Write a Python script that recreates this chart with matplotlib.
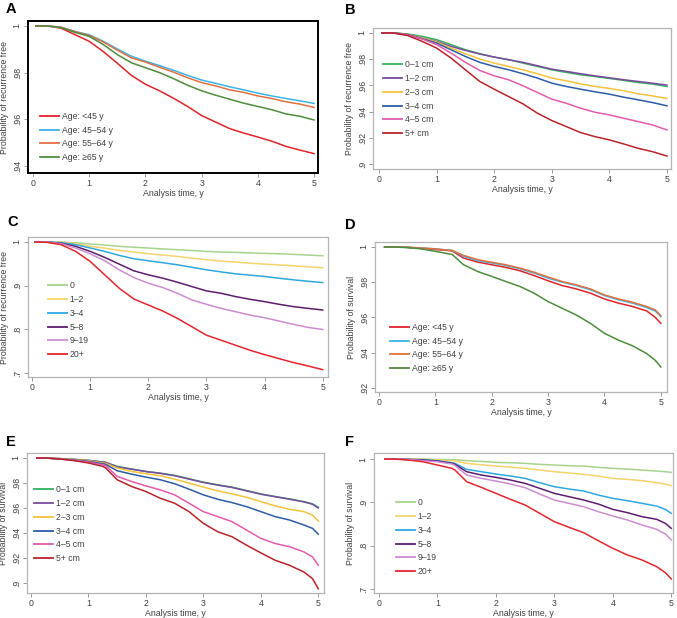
import matplotlib
matplotlib.use("Agg")
import matplotlib.pyplot as plt

plt.rcParams['font.family'] = ['Liberation Sans', 'DejaVu Sans']

# time grids (years)
t_top = [0.05, 0.25, 0.5, 0.75, 1.0, 1.25, 1.5, 1.75, 2.0, 2.25, 2.5, 2.75,
         3.0, 3.25, 3.5, 3.75, 4.0, 4.25, 4.5, 4.75, 5.0]
t_os = [0.1, 0.25, 0.5, 0.75, 1.0, 1.25, 1.3, 1.5, 1.75, 2.0, 2.25, 2.5, 2.75,
        3.0, 3.25, 3.5, 3.75, 4.0, 4.25, 4.5, 4.75, 4.9, 5.0]

age_labels = ['Age: <45 y', 'Age: 45\u201354 y', 'Age: 55\u201364 y', 'Age: \u226565 y']
size_labels = ['0\u20131 cm', '1\u20132 cm', '2\u20133 cm', '3\u20134 cm', '4\u20135 cm', '5+ cm']
node_labels = ['0', '1\u20132', '3\u20134', '5\u20138', '9\u201319', '20+']

age_colors = ['#e0232b', '#3ab4e6', '#e2703f', '#4e8d3c']
size_colors = ['#34b060', '#7a4b9e', '#f3c33c', '#2d5ca6', '#e35bac', '#b8232a']
node_colors = ['#a6d48e', '#f6d36c', '#2ea8df', '#5e1c6f', '#cb8dd0', '#e3262c']

# A: recurrence free by age
rfs_age = [
    [1, 1, .999, .9962, .9934, .989, .984, .9788, .975, .9722, .969, .9655, .9616, .9588, .956, .9541, .9524, .9506, .9484, .9468, .9453],
    [1, 1, .9994, .9976, .9962, .9934, .9901, .987, .9849, .983, .981, .9788, .9768, .9754, .9739, .9726, .9712, .97, .9689, .9679, .9668],
    [1, 1, .9994, .9975, .9959, .9931, .9896, .9863, .9845, .9823, .9802, .9778, .9757, .9743, .9726, .9715, .97, .9689, .9675, .9665, .9651],
    [1, 1, .9993, .9972, .9955, .992, .9877, .9842, .9821, .98, .9774, .9746, .9722, .9703, .9686, .9669, .9655, .9641, .9623, .9613, .9597],
]
# B: recurrence free by tumour size
rfs_size = [
    [1, 1, .9992, .9974, .9949, .9911, .9872, .9842, .9816, .9796, .977, .9745, .9719, .9699, .9681, .9668, .9653, .9638, .9622, .961, .9592],
    [1, 1, .999, .9962, .9936, .9898, .9867, .9839, .9816, .9796, .9776, .975, .9724, .9707, .9689, .9673, .9658, .9643, .963, .9617, .9602],
    [1, 1, .999, .9962, .9931, .9885, .9842, .9801, .977, .9745, .9719, .9689, .9656, .9635, .9612, .9592, .9577, .9559, .9536, .952, .95],
    [1, 1, .9988, .9957, .9923, .9872, .9821, .9776, .9745, .9719, .9689, .9656, .9617, .9592, .9571, .9551, .9533, .951, .949, .9469, .9444],
    [1, 1, .9985, .9954, .9911, .9847, .9776, .9714, .9673, .9643, .9597, .9546, .9495, .9464, .9426, .9395, .9375, .9349, .9324, .9298, .926],
    [1, 1, .998, .9936, .9885, .9809, .9719, .963, .9571, .9515, .9459, .9388, .9332, .9286, .924, .9209, .9184, .9153, .912, .9094, .9061],
]
# C: recurrence free by positive nodes
rfs_nodes = [
    [1, 1, 1, .998, .9954, .993, .99, .988, .9862, .984, .9823, .9805, .9785, .977, .9762, .975, .9739, .973, .9716, .970, .9685],
    [1, 1, .9992, .996, .99, .986, .9808, .977, .9731, .970, .967, .963, .9593, .9565, .954, .9515, .9493, .9475, .9455, .943, .9409],
    [1, 1, .9985, .9939, .9862, .9785, .9693, .9616, .957, .9525, .9478, .942, .9363, .9315, .9271, .924, .921, .917, .9133, .910, .9071],
    [1, 1, .997, .99, .9785, .9647, .9493, .934, .9248, .9171, .9079, .8979, .888, .8826, .875, .8688, .8634, .8573, .8519, .848, .8442],
    [1, 1, .9962, .9862, .9731, .957, .9363, .9187, .9056, .8956, .8826, .8673, .8573, .8481, .8404, .8327, .8266, .8189, .8113, .8044, .7997],
    [1, .9992, .9939, .9785, .9555, .9248, .8941, .8696, .8557, .8419, .8251, .8059, .7866, .7752, .7636, .7521, .7421, .7329, .7238, .7161, .7077],
]
# D: survival by age
os_age = [
    [1, 1, .9998, .9992, .9985, .9979, .9977, .9937, .9914, .9899, .9884, .9865, .9838, .9808, .9781, .9762, .9738, .9705, .9681, .9662, .9637, .9601, .9567],
    [1, 1, .9998, .9994, .9989, .9981, .998, .9947, .9922, .9909, .9895, .9876, .9852, .9823, .98, .9781, .9757, .9724, .97, .9681, .9656, .9637, .9605],
    [1, 1, .9998, .9994, .9989, .9981, .998, .9952, .9928, .9913, .9899, .988, .9857, .9829, .9804, .9785, .9762, .9728, .9705, .9686, .9662, .9643, .961],
    [1, 1, .9996, .9989, .9975, .996, .9957, .9899, .9861, .9833, .9804, .9776, .9738, .969, .9652, .9614, .9567, .951, .9471, .9439, .9395, .9357, .9319],
]
# E: survival by tumour size
os_size = [
    [1, 1, .9995, .9989, .9981, .9968, .9965, .9933, .9912, .9893, .9879, .9861, .9834, .9807, .9786, .9767, .974, .9713, .9692, .9673, .9651, .9633, .9606],
    [1, 1, .9995, .9989, .9981, .9968, .9965, .9928, .991, .9891, .9877, .9858, .9831, .9804, .9783, .9764, .9737, .971, .969, .967, .9649, .963, .96],
    [1, 1, .9995, .9987, .9979, .996, .9957, .992, .9893, .9874, .9858, .9831, .9799, .9767, .9737, .9713, .9686, .9651, .9617, .959, .9571, .9544, .9496],
    [1, 1, .9992, .9984, .9973, .9954, .9949, .9898, .9871, .9847, .9826, .9794, .9751, .9705, .967, .9643, .9611, .9571, .9531, .9504, .9464, .9437, .9391],
    [1, 1, .9992, .9981, .9968, .9946, .9938, .9853, .9812, .9777, .9745, .9705, .9638, .9571, .9531, .9491, .9424, .9357, .9316, .929, .9249, .9209, .9142],
    [1, 1, .9992, .9979, .996, .9933, .992, .9826, .9772, .9732, .9678, .9638, .9571, .9477, .941, .937, .9303, .9241, .9182, .9142, .9088, .9035, .8954],
]
# F: survival by positive nodes
os_nodes = [
    [1, 1, 1, 1, .9992, .9985, .9985, .9962, .9946, .9923, .9915, .99, .9877, .9862, .9846, .9838, .9808, .9785, .9769, .9746, .9723, .9708, .9692],
    [1, 1, 1, .9992, .9977, .9962, .9954, .99, .9869, .9838, .9815, .9785, .9746, .9708, .9677, .9646, .9608, .9554, .9531, .95, .9454, .9423, .9385],
    [1, 1, .9992, .9985, .9962, .9915, .99, .9762, .9708, .9654, .9608, .9554, .9454, .9362, .9308, .9262, .9169, .9092, .9038, .8977, .8915, .8838, .8746],
    [1, 1, .9992, .9977, .9954, .99, .9877, .9708, .9631, .9577, .9515, .9438, .9323, .9208, .9131, .9054, .8962, .8838, .8762, .8669, .8608, .8515, .84],
    [1, 1, .9992, .9962, .9938, .9885, .9854, .9631, .9554, .9492, .9423, .9338, .9192, .9054, .8977, .89, .8785, .8685, .8592, .8477, .8377, .8269, .8131],
    [1, 1, .9977, .9938, .9862, .9785, .9746, .9477, .9346, .9208, .9069, .8938, .8746, .8554, .8423, .83, .8115, .7938, .7785, .7669, .7515, .7377, .7231],
]

W, H = 677, 618
fig = plt.figure(figsize=(W / 100, H / 100), dpi=100)


def px_axes(l, t, r, b):
    return fig.add_axes([l / W, 1 - b / H, (r - l) / W, (b - t) / H])


def fmt(v):
    s = ('%g' % v)
    return s[1:] if s.startswith('0') else s


panels = [
    # letter, frame px, xlim, ylim, yticks, ylabel, times, series, labels, colors, legend anchor px, letter pos
    ('A', (28, 21, 318, 173), (-0.09, 5.07), (0.937, 1.0021), [.94, .96, .98, 1],
     'Probability of recurrence free', t_top, rfs_age, age_labels, age_colors, (40, 162), (6, 2)),
    ('B', (373, 28, 671, 169), (-0.104, 5.07), (0.8962, 1.0038), [.9, .92, .94, .96, .98, 1],
     'Probability of recurrence free', t_top, rfs_size, size_labels, size_colors, (383, 138), (345, 3)),
    ('C', (28, 237, 328, 377), (-0.069, 5.09), (0.6909, 1.0114), [.7, .8, .9, 1],
     'Probability of recurrence free', t_top, rfs_nodes, node_labels, node_colors, (48, 359), (7, 215)),
    ('D', (375, 242, 667, 392), (-0.07, 5.11), (0.9177, 1.0028), [.92, .94, .96, .98, 1],
     'Probability of survival', t_os, os_age, age_labels, age_colors, (390, 373), (345, 218)),
    ('E', (27, 453, 324, 593), (-0.07, 5.1), (0.892, 1.004), [.9, .92, .94, .96, .98, 1],
     'Probability of survival', t_os, os_size, size_labels, size_colors, (34, 563), (6, 435)),
    ('F', (374, 453, 673, 593), (-0.086, 5.03), (0.6906, 1.014), [.7, .8, .9, 1],
     'Probability of survival', t_os, os_nodes, node_labels, node_colors, (396, 576), (345, 435)),
]

txt = '#404040'
for (letter, frame, xl, yl, yt, ylab, times, series, labels, colors, leg, lpos) in panels:
    ax = px_axes(*frame)
    for vals, lab, col in zip(series, labels, colors):
        ax.plot(times, vals, color=col, lw=1.1, label=lab)
    ax.set_xlim(*xl)
    ax.set_ylim(*yl)
    ax.set_xticks([0, 1, 2, 3, 4, 5])
    ax.set_yticks(yt)
    ax.set_yticklabels([fmt(v) for v in yt], rotation=90, va='center')
    spine_col = 'black' if letter == 'A' else '#b4b4b4'
    spine_lw = 1.4 if letter == 'A' else 0.9
    for sp in ax.spines.values():
        sp.set_color(spine_col)
        sp.set_linewidth(spine_lw)
    ax.tick_params(direction='out', length=3, width=0.7, color='#9a9a9a',
                   labelsize=6.3, labelcolor=txt, pad=1.5)
    ax.set_xlabel('Analysis time, y', fontsize=6.3, color=txt, labelpad=0.5)
    ax.set_ylabel(ylab, fontsize=6.3, color=txt, labelpad=3)
    lg = ax.legend(loc='lower left', bbox_to_anchor=(leg[0] / W, 1 - leg[1] / H),
                   bbox_transform=fig.transFigure, frameon=False, fontsize=6.2,
                   handlelength=2.2, handletextpad=0.3, labelspacing=0.55,
                   borderpad=0, borderaxespad=0)
    for t in lg.get_texts():
        t.set_color(txt)
    for h in lg.get_lines():
        h.set_linewidth(1.3)
    fig.text(lpos[0] / W, 1 - lpos[1] / H, letter, fontsize=10.5, fontweight='bold',
             va='top', ha='left')

fig.savefig('out.png', dpi=100)
